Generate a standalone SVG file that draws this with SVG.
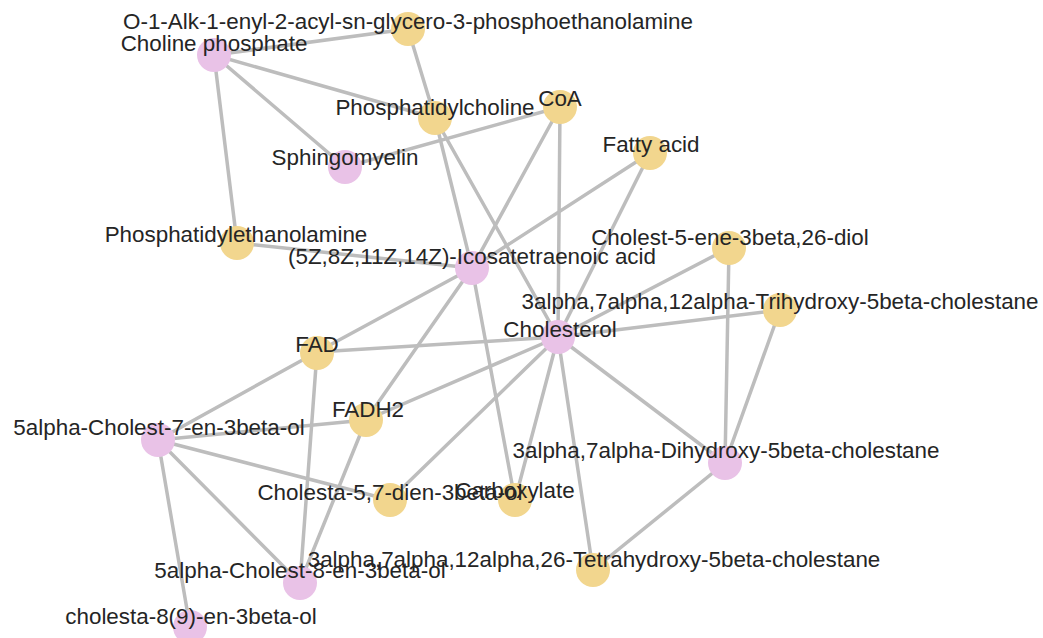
<svg xmlns="http://www.w3.org/2000/svg" width="1043" height="638" viewBox="0 0 1043 638">
<style>
.e{stroke:#bdbdbd;stroke-width:3.5;stroke-linecap:round;fill:none}
.y{fill:#f2d68e}
.p{fill:#e9c2e7}
text{font-family:"Liberation Sans",Arial,sans-serif;font-size:22.4px;fill:#252525;text-anchor:middle}
</style>
<rect width="1043" height="638" fill="#ffffff"/>
<g id="edges" class="e">
<line x1="408" y1="29" x2="214" y2="55"/>
<line x1="408" y1="29" x2="435" y2="118"/>
<line x1="214" y1="55" x2="435" y2="118"/>
<line x1="214" y1="55" x2="345" y2="167"/>
<line x1="214" y1="55" x2="237" y2="243"/>
<line x1="345" y1="167" x2="560" y2="107"/>
<line x1="435" y1="118" x2="472" y2="268"/>
<line x1="435" y1="118" x2="558" y2="337"/>
<line x1="560" y1="107" x2="472" y2="268"/>
<line x1="560" y1="107" x2="558" y2="337"/>
<line x1="650" y1="153" x2="472" y2="268"/>
<line x1="650" y1="153" x2="558" y2="337"/>
<line x1="237" y1="243" x2="472" y2="268"/>
<line x1="472" y1="268" x2="317" y2="352"/>
<line x1="472" y1="268" x2="366" y2="420"/>
<line x1="472" y1="268" x2="515" y2="500"/>
<line x1="558" y1="337" x2="317" y2="352"/>
<line x1="558" y1="337" x2="780" y2="310"/>
<line x1="558" y1="337" x2="729" y2="248"/>
<line x1="558" y1="337" x2="366" y2="420"/>
<line x1="558" y1="337" x2="390" y2="500"/>
<line x1="558" y1="337" x2="515" y2="500"/>
<line x1="558" y1="337" x2="593" y2="570"/>
<line x1="558" y1="337" x2="725" y2="463"/>
<line x1="729" y1="248" x2="725" y2="463"/>
<line x1="780" y1="310" x2="725" y2="463"/>
<line x1="725" y1="463" x2="593" y2="570"/>
<line x1="317" y1="352" x2="158" y2="440"/>
<line x1="317" y1="352" x2="300" y2="583"/>
<line x1="366" y1="420" x2="158" y2="440"/>
<line x1="366" y1="420" x2="300" y2="583"/>
<line x1="158" y1="440" x2="390" y2="500"/>
<line x1="158" y1="440" x2="300" y2="583"/>
<line x1="158" y1="440" x2="190" y2="627"/>
</g>
<g id="n2"><circle class="p" cx="214" cy="55" r="17"/><text x="214" y="51">Choline phosphate</text></g>
<g id="n1"><circle class="y" cx="408" cy="29" r="17"/><text x="408" y="29">O-1-Alk-1-enyl-2-acyl-sn-glycero-3-phosphoethanolamine</text></g>
<g id="n5"><circle class="p" cx="345" cy="167" r="17"/><text x="345" y="165">Sphingomyelin</text></g>
<g id="n3"><circle class="y" cx="435" cy="118" r="17"/><text x="435" y="115">Phosphatidylcholine</text></g>
<g id="n4"><circle class="y" cx="560" cy="107" r="17"/><text x="560" y="106">CoA</text></g>
<g id="n6"><circle class="y" cx="650" cy="153" r="17"/><text x="651" y="152">Fatty acid</text></g>
<g id="n7"><circle class="y" cx="237" cy="243" r="17"/><text x="236" y="242">Phosphatidylethanolamine</text></g>
<g id="n8"><circle class="p" cx="472" cy="268" r="17"/><text x="472" y="264">(5Z,8Z,11Z,14Z)-Icosatetraenoic acid</text></g>
<g id="n9"><circle class="y" cx="729" cy="248" r="17"/><text x="730" y="245">Cholest-5-ene-3beta,26-diol</text></g>
<g id="n11"><circle class="p" cx="558" cy="337" r="17"/><text x="560" y="337">Cholesterol</text></g>
<g id="n10"><circle class="y" cx="780" cy="310" r="17"/><text x="780" y="309">3alpha,7alpha,12alpha-Trihydroxy-5beta-cholestane</text></g>
<g id="n12"><circle class="y" cx="317" cy="353" r="17"/><text x="317" y="352">FAD</text></g>
<g id="n13"><circle class="y" cx="366" cy="420" r="17"/><text x="368" y="417">FADH2</text></g>
<g id="n14"><circle class="p" cx="158" cy="440" r="17"/><text x="159" y="435">5alpha-Cholest-7-en-3beta-ol</text></g>
<g id="n15"><circle class="p" cx="725" cy="463" r="17"/><text x="726" y="458">3alpha,7alpha-Dihydroxy-5beta-cholestane</text></g>
<g id="n17"><circle class="y" cx="515" cy="500" r="17"/><text x="515" y="498">Carboxylate</text></g>
<g id="n16"><circle class="y" cx="390" cy="500" r="17"/><text x="390" y="500">Cholesta-5,7-dien-3beta-ol</text></g>
<g id="n19"><circle class="p" cx="300" cy="583" r="17"/><text x="300" y="578">5alpha-Cholest-8-en-3beta-ol</text></g>
<g id="n18"><circle class="y" cx="593" cy="570" r="17"/><text x="594" y="567">3alpha,7alpha,12alpha,26-Tetrahydroxy-5beta-cholestane</text></g>
<g id="n20"><circle class="p" cx="190" cy="627" r="17"/><text x="191" y="624">cholesta-8(9)-en-3beta-ol</text></g>
</svg>
